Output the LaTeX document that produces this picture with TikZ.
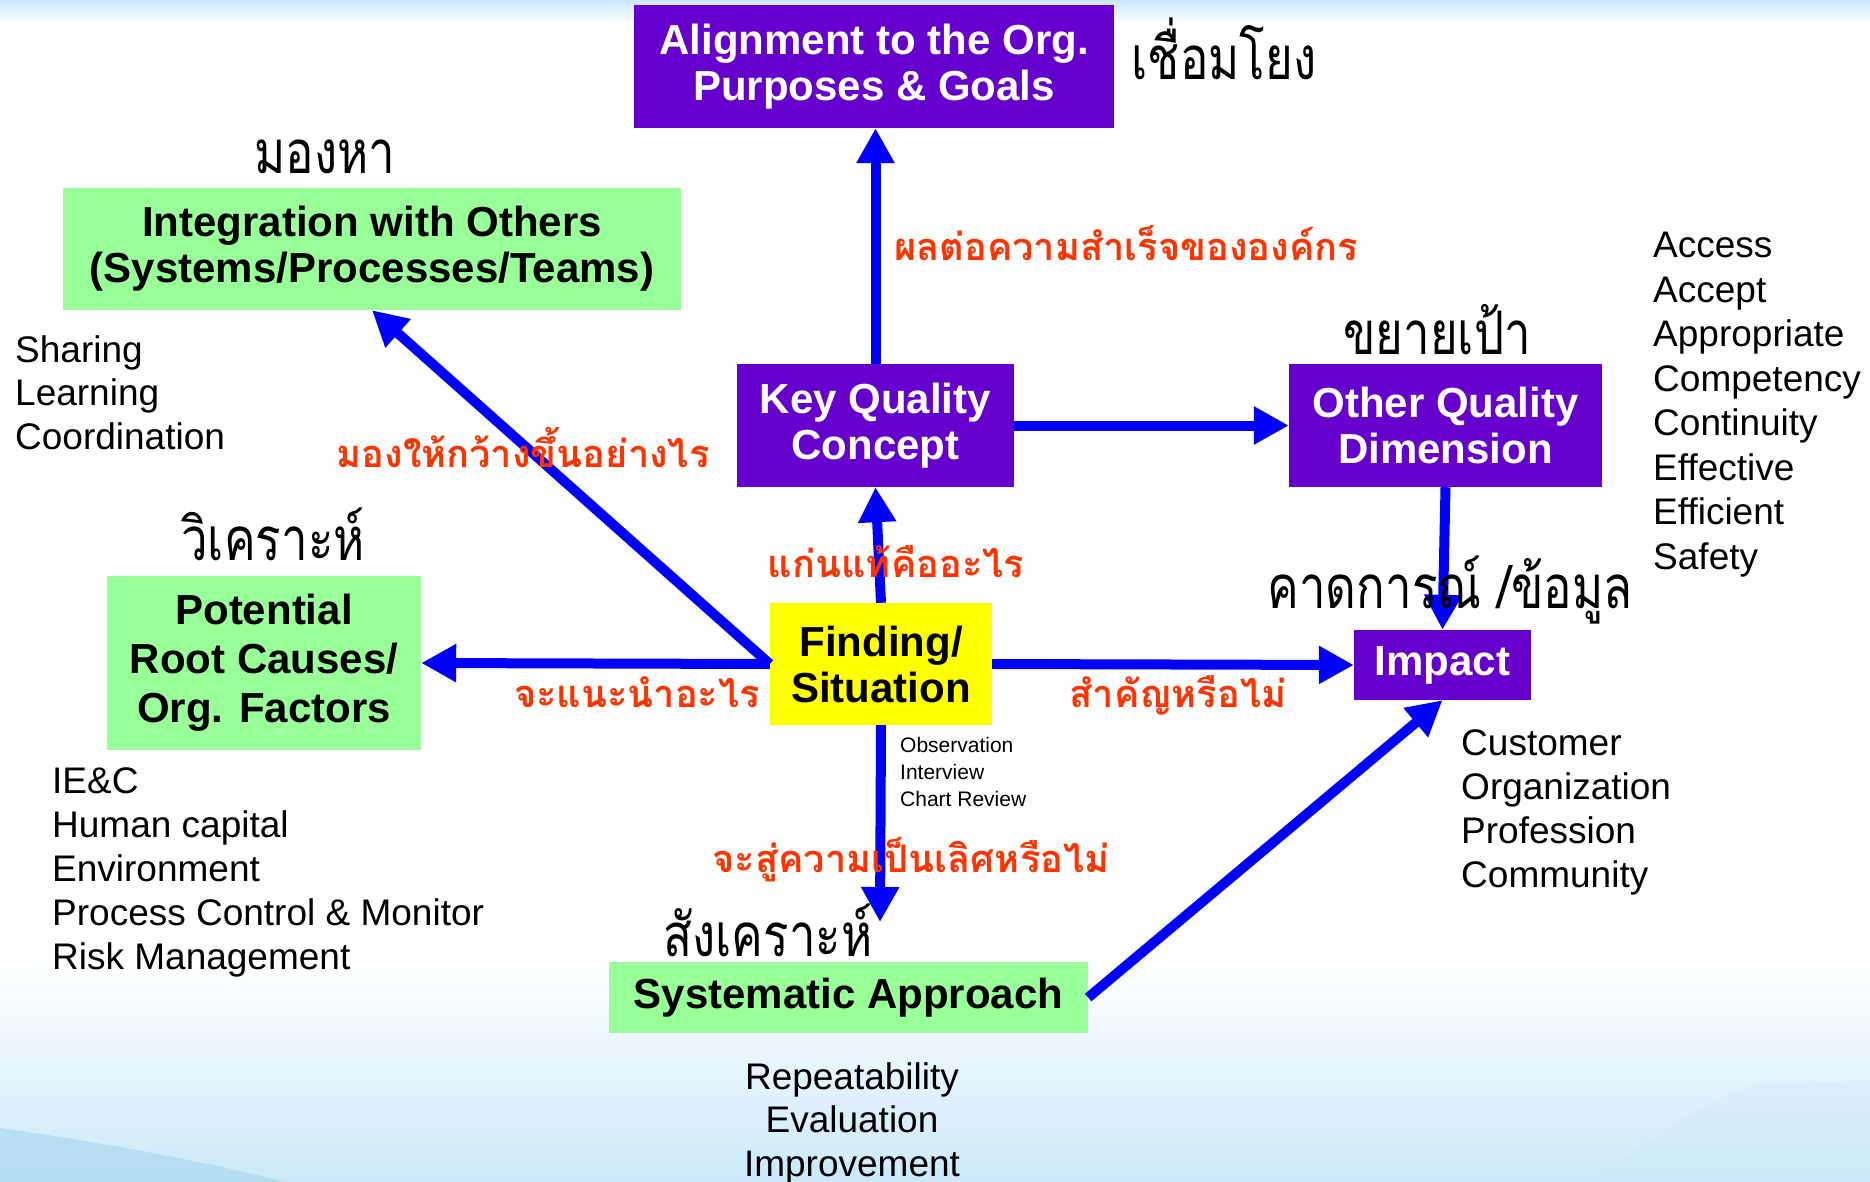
\documentclass[tikz,border=0pt]{standalone}
\usepackage{fontspec}
\setmainfont{Liberation Sans}
\newfontfamily\thaired[Script=Thai]{Loma}
\newfontfamily\thaicond[Script=Thai,FakeStretch=0.79]{Loma}
\usetikzlibrary{arrows.meta}
\definecolor{boxpurple}{HTML}{6600CC}
\definecolor{boxgreen}{HTML}{99FF99}
\definecolor{boxyellow}{HTML}{FFFF00}
\definecolor{flowblue}{HTML}{0000FF}
\definecolor{labelred}{HTML}{FF3300}
\definecolor{skyhaze}{HTML}{CBE9F8}
\definecolor{skydeep}{HTML}{A6D5EF}
\begin{document}
\begin{tikzpicture}[x=1pt,y=-1pt,
  box/.style={rectangle, inner sep=0pt, align=center,
    font=\bfseries\fontsize{42}{46}\selectfont},
  purplebox/.style={box, fill=boxpurple, text=white},
  greenbox/.style={box, fill=boxgreen, text=black},
  yellowbox/.style={box, fill=boxyellow, text=black},
  flow/.style={draw=flowblue, line width=10pt, -{Triangle[length=35pt,width=36pt]}},
  redlabel/.style={text=labelred, inner sep=0pt, anchor=base,
    font=\thaired\bfseries\fontsize{38}{42}\selectfont},
  thailabel/.style={text=black, inner sep=0pt, anchor=base,
    font=\thaicond\fontsize{60}{64}\selectfont},
  listtext/.style={inner sep=0pt, align=left, anchor=base west,
    font=\fontsize{37}{44}\selectfont},
]
% page and soft sky background
\useasboundingbox (0,0) rectangle (1870,1182);
\fill[white] (0,0) rectangle (1870,1182);
\shade[top color=skyhaze, bottom color=white] (0,0) rectangle (1870,24);
\shade[top color=white, bottom color=skyhaze] (0,960) rectangle (1870,1182);
\fill[skydeep, opacity=0.6] (0,1128) .. controls (120,1145) and (220,1165) .. (285,1182) -- (0,1182) -- cycle;
\fill[skyhaze, opacity=0.3] (1590,1182) .. controls (1650,1140) and (1700,1105) .. (1750,1085) -- (1870,1080) -- (1870,1182) -- cycle;

% boxes
\node[purplebox, minimum width=480pt, minimum height=123pt] (align) at (874,66.5)
  {Alignment to the Org.\\Purposes \& Goals};
\node[greenbox, minimum width=618pt, minimum height=122pt] (integ) at (372,249)
  {Integration with Others\\(Systems/Processes/Teams)};
\node[greenbox, minimum width=314pt, minimum height=174pt, font=\bfseries\fontsize{42}{49}\selectfont] (root) at (264,663)
  {Potential\\Root Causes/\\Org. Factors};
\node[purplebox, minimum width=277pt, minimum height=123pt] (keyq) at (875.5,425.5)
  {Key Quality\\Concept};
\node[purplebox, minimum width=313pt, minimum height=123pt] (otherq) at (1445.5,425.5)
  {Other Quality\\Dimension};
\node[yellowbox, minimum width=222pt, minimum height=122pt] (finding) at (881,664)
  {Finding/\\Situation};
\node[purplebox, minimum width=177pt, minimum height=70pt] (impact) at (1442.5,665)
  {Impact};
\node[greenbox, minimum width=479pt, minimum height=71pt] (system) at (848.5,997.5)
  {Systematic Approach};
\coordinate (sysin) at (880,922);

% connectors
\draw[flow] (keyq.north) -- (keyq.north |- align.south);
\draw[flow] (finding.north) -- (keyq.south);
\draw[flow] (finding.west) -- (root.east);
\draw[flow] (finding.west) -- (integ.south);
\draw[flow] (finding.east) -- (impact.west);
\draw[flow] (finding.south) -- (sysin);
\draw[flow] (keyq.east) -- (otherq.west);
\draw[flow] (otherq.south) -- (impact.north);
\draw[flow] (system.east) -- (impact.south);

% Thai captions
\node[thailabel] (tlink) at (1224,80) {เชื่อมโยง};
\node[thailabel] (tlook) at (325,174) {มองหา};
\node[thailabel] (tanal) at (273,560) {วิเคราะห์};
\node[thailabel] (twide) at (1437,354) {ขยายเป้า};
\node[thailabel] (tpred) at (1450,608) {คาดการณ์ /ข้อมูล};
\node[thailabel] (tsynth) at (768,956) {สังเคราะห์};

% questions along the arrows
\node[redlabel] (qgoal) at (1126,261) {ผลต่อความสำเร็จขององค์กร};
\node[redlabel] (qwide) at (523,467) {มองให้กว้างขึ้นอย่างไร};
\node[redlabel] (qcore) at (896,577) {แก่นแท้คืออะไร};
\node[redlabel] (qadv) at (637,707) {จะแนะนำอะไร};
\node[redlabel] (qimp) at (1178,707) {สำคัญหรือไม่};
\node[redlabel] (qexc) at (911,872) {จะสู่ความเป็นเลิศหรือไม่};

% word lists (anchored on the baseline of their last line)
\node[listtext, font=\fontsize{37}{43.5}\selectfont] (lshare) at (15,449) {Sharing\\Learning\\Coordination};
\node[listtext, font=\fontsize{37}{43.8}\selectfont] (lfactor) at (52,969) {IE\&C\\Human capital\\Environment\\Process Control \& Monitor\\Risk Management};
\node[listtext, font=\fontsize{37}{44.5}\selectfont] (ldim) at (1653,569) {Access\\Accept\\Appropriate\\Competency\\Continuity\\Effective\\Efficient\\Safety};
\node[listtext, font=\fontsize{37}{43.7}\selectfont] (lcust) at (1461,887) {Customer\\Organization\\Profession\\Community};
\node[listtext, font=\fontsize{37}{43.5}\selectfont, align=center, anchor=base] (lrep) at (852,1176) {Repeatability\\Evaluation\\Improvement};
\node[listtext, font=\fontsize{21}{27}\selectfont] (lobs) at (900,806) {Observation\\Interview\\Chart Review};
\end{tikzpicture}
\end{document}
